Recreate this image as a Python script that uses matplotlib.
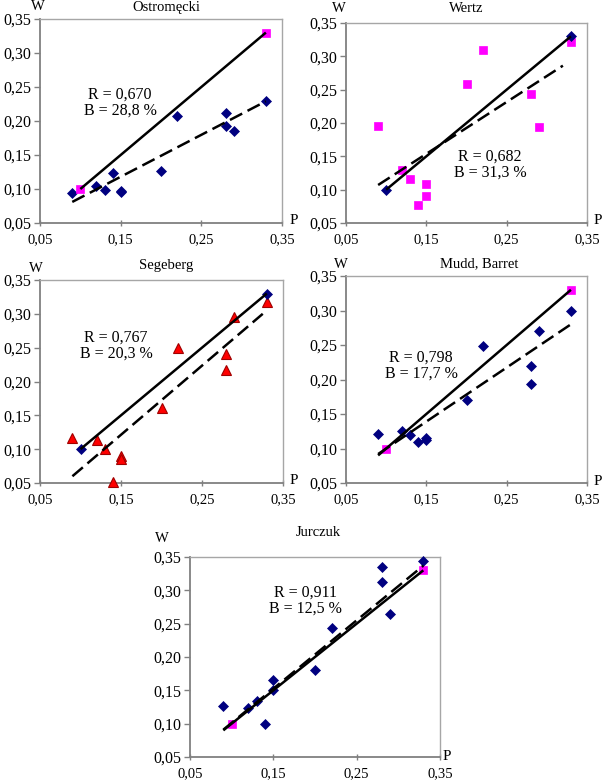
import matplotlib
matplotlib.use("Agg")
import matplotlib.pyplot as plt

# ---------------- data ----------------
titles = ["Ostromęcki", "Wertz", "Segeberg", "Mudd, Barret", "Jurczuk"]

p_ostromecki = [0.09, 0.12, 0.13, 0.14, 0.15, 0.15, 0.20, 0.22, 0.28, 0.28, 0.29, 0.33]
w_ostromecki = [0.094, 0.105, 0.099, 0.124, 0.095, 0.097, 0.127, 0.208, 0.212, 0.193, 0.185, 0.229]

p_wertz = [0.09, 0.12, 0.13, 0.14, 0.15, 0.15, 0.20, 0.22, 0.28, 0.29, 0.33]
w_wertz = [0.195, 0.130, 0.116, 0.077, 0.109, 0.090, 0.258, 0.309, 0.244, 0.194, 0.322]

p_segeberg = [0.09, 0.12, 0.13, 0.14, 0.15, 0.15, 0.20, 0.22, 0.28, 0.28, 0.29, 0.33]
w_segeberg = [0.117, 0.114, 0.100, 0.052, 0.090, 0.085, 0.161, 0.250, 0.240, 0.217, 0.296, 0.318]

p_mudd = [0.09, 0.12, 0.13, 0.14, 0.15, 0.15, 0.20, 0.22, 0.28, 0.28, 0.29, 0.33]
w_mudd = [0.121, 0.126, 0.119, 0.110, 0.113, 0.115, 0.171, 0.248, 0.220, 0.194, 0.270, 0.300]

p_jurczuk = [0.09, 0.12, 0.13, 0.14, 0.15, 0.15, 0.20, 0.22, 0.28, 0.28, 0.29, 0.33]
w_jurczuk = [0.127, 0.124, 0.134, 0.100, 0.165, 0.150, 0.180, 0.244, 0.335, 0.312, 0.264, 0.344]

# reference (1:1) points
ref_p = [0.10, 0.33]
ref_w = [0.10, 0.33]

# solid 1:1 lines (P endpoints, W endpoints)
solid_p = [[0.10, 0.33], [0.10, 0.33], [0.10, 0.33], [0.09, 0.33], [0.09, 0.33]]
solid_w = [[0.10, 0.33], [0.10, 0.33], [0.10, 0.33], [0.09, 0.33], [0.09, 0.33]]

# dashed regression lines
dash_p = [[0.09, 0.33], [0.09, 0.32], [0.09, 0.325], [0.09, 0.33], [0.09, 0.33]]
dash_w = [[0.081, 0.229], [0.107, 0.286], [0.060, 0.300], [0.092, 0.280], [0.091, 0.337]]

r_labels = ["R = 0,670", "R = 0,682", "R = 0,767", "R = 0,798", "R = 0,911"]
b_labels = ["B = 28,8 %", "B = 31,3 %", "B = 20,3 %", "B = 17,7 %", "B = 12,5 %"]

x_ticks = [0.05, 0.15, 0.25, 0.35]
x_tick_labels = ["0,05", "0,15", "0,25", "0,35"]
y_ticks = [0.05, 0.10, 0.15, 0.20, 0.25, 0.30, 0.35]
y_tick_labels = ["0,05", "0,10", "0,15", "0,20", "0,25", "0,30", "0,35"]

# ---------------- style ----------------
W, H = 605, 782
plt.rcParams['font.family'] = ['Liberation Serif', 'DejaVu Serif']
fig = plt.figure(figsize=(W / 100, H / 100), dpi=100)

NAVY = "#000080"
MAGENTA = "#FF00FF"
RED = "#FF0000"

def fx(x):
    return x / W

def fy(y):
    return 1 - y / H

# axes boxes in pixels: left, right, top, bottom
boxes = [(40, 282, 19, 223), (346, 587, 23, 223), (40, 283, 280, 483),
         (346, 587, 276, 483), (190, 440, 557, 757)]
# title (cx, cy), W label (x, y), P label (x, y), annotation centre (cx, cy)
title_pos = [(166, 8), (466, 8), (166, 265), (479, 264), (318, 532)]
w_pos = [(38, 7), (339, 8), (36, 268), (341, 264), (162, 538)]
p_pos = [(290, 221), (594, 221), (290, 481), (594, 482), (443, 756)]
ann_pos = [(120, 95), (490, 157), (116, 338), (421, 358), (305, 593)]

main_p = [p_ostromecki, p_wertz, p_segeberg, p_mudd, p_jurczuk]
main_w = [w_ostromecki, w_wertz, w_segeberg, w_mudd, w_jurczuk]
main_style = [
    dict(marker='D', color=NAVY, ms=5.3, mec=NAVY),
    dict(marker='s', color=MAGENTA, ms=6, mec=MAGENTA),
    dict(marker='^', color=RED, ms=6.5, mec="#A00000", mew=0.8),
    dict(marker='D', color=NAVY, ms=5.3, mec=NAVY),
    dict(marker='D', color=NAVY, ms=5.3, mec=NAVY),
]
ref_style = [
    dict(marker='s', color=MAGENTA, ms=6, mec=MAGENTA),
    dict(marker='D', color=NAVY, ms=5, mec=NAVY),
    dict(marker='D', color=NAVY, ms=5, mec=NAVY),
    dict(marker='s', color=MAGENTA, ms=6, mec=MAGENTA),
    dict(marker='s', color=MAGENTA, ms=6, mec=MAGENTA),
]

for i in range(5):
    l, r, t, b = boxes[i]
    ax = fig.add_axes([fx(l), fy(b), fx(r) - fx(l), (b - t) / H])
    ax.set_xlim(0.05, 0.35)
    ax.set_ylim(0.05, 0.35)
    ax.set_xticks(x_ticks)
    ax.set_xticklabels(x_tick_labels)
    ax.set_yticks(y_ticks)
    ax.set_yticklabels(y_tick_labels)
    ax.tick_params(axis='x', direction='inout', length=5, width=1, color='#808080',
                   labelsize=10.5, pad=5)
    ax.tick_params(axis='y', direction='out', length=4, width=1, color='#808080',
                   labelsize=11.5, pad=2)
    for side in ['left', 'bottom']:
        ax.spines[side].set_color('#808080')
        ax.spines[side].set_linewidth(1.3)
    for side in ['top', 'right']:
        ax.spines[side].set_color('#A6A6A6')
        ax.spines[side].set_linewidth(1.0)

    ms = main_style[i]
    ax.plot(main_p[i], main_w[i], linestyle='none', marker=ms['marker'],
            color=ms['color'], markersize=ms['ms'], markeredgecolor=ms['mec'],
            markeredgewidth=ms.get('mew', 0.5), clip_on=False, zorder=3)
    rs = ref_style[i]
    ax.plot(ref_p, ref_w, linestyle='none', marker=rs['marker'],
            color=rs['color'], markersize=rs['ms'], markeredgecolor=rs['mec'],
            markeredgewidth=0.5, clip_on=False, zorder=3)

    ax.plot(solid_p[i], solid_w[i], color='black', linewidth=1.8,
            solid_capstyle='butt', zorder=4)
    ax.plot(dash_p[i], dash_w[i], color='black', linewidth=1.8,
            dashes=[5.5, 2.4], dash_capstyle='butt', zorder=4)

    fig.text(fx(title_pos[i][0]), fy(title_pos[i][1]), titles[i], ha='center',
             va='center', fontsize=10.5)
    fig.text(fx(w_pos[i][0]), fy(w_pos[i][1]), "W", ha='center', va='center',
             fontsize=10.5)
    fig.text(fx(p_pos[i][0]), fy(p_pos[i][1]), "P", ha='left', va='center',
             fontsize=11)
    cx, cy = ann_pos[i]
    fig.text(fx(cx), fy(cy), r_labels[i], ha='center', va='center', fontsize=11.5)
    fig.text(fx(cx), fy(cy + 16), b_labels[i], ha='center', va='center', fontsize=11.5)

fig.savefig("out.png", dpi=100)
